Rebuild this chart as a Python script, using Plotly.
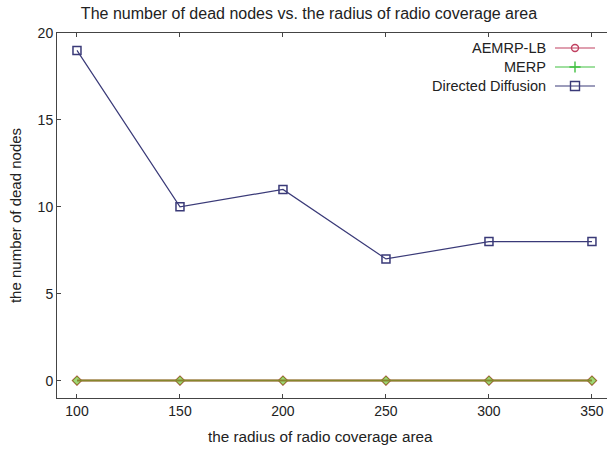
import plotly.graph_objects as go

# Data
radius = [100, 150, 200, 250, 300, 350]
aemrp_lb = [0, 0, 0, 0, 0, 0]
merp = [0, 0, 0, 0, 0, 0]
directed_diffusion = [19, 10, 11, 7, 8, 8]

series_names = ["AEMRP-LB", "MERP", "Directed Diffusion"]

RED = "#c03040"
GREEN = "#60c020"
NAVY = "#3a3a78"
TEXT = "#222222"
FONT = "Liberation Sans, Arial, sans-serif"

W, H = 607, 450
L, R, T, B = 57, 0, 33, 52

fig = go.Figure()

fig.add_trace(go.Scatter(
    x=radius, y=aemrp_lb, mode="lines+markers", name=series_names[0],
    line=dict(color=RED, width=2),
    marker=dict(symbol="diamond-open", size=7, color=RED, line=dict(width=1.2)),
    showlegend=False, cliponaxis=False))
fig.add_trace(go.Scatter(
    x=radius, y=merp, mode="lines+markers", name=series_names[1],
    line=dict(color=GREEN, width=2), opacity=0.6,
    marker=dict(symbol="diamond", size=7, color=GREEN, line=dict(width=1, color=GREEN)),
    showlegend=False, cliponaxis=False))
fig.add_trace(go.Scatter(
    x=radius, y=directed_diffusion, mode="lines+markers", name=series_names[2],
    line=dict(color=NAVY, width=1.2),
    marker=dict(symbol="square-open", size=8, color=NAVY, line=dict(width=1.5)),
    showlegend=False, cliponaxis=False))

# Legend drawn on a pixel-scaled overlay axis: text right-aligned, sample to its right
leg_rows = [48, 67, 86]
leg_styles = [
    ("#c04060", "circle-open", 7),
    ("#40c040", "cross-thin", 8),
    (NAVY, "square-open", 9),
]
for name, yrow, (col, sym, sz) in zip(series_names, leg_rows, leg_styles):
    fig.add_trace(go.Scatter(
        x=[555, 575, 595], y=[yrow, yrow, yrow], xaxis="x2", yaxis="y2",
        mode="lines", line=dict(color=col, width=1.2), showlegend=False, hoverinfo="skip"))
    fig.add_trace(go.Scatter(
        x=[575], y=[yrow], xaxis="x2", yaxis="y2", mode="markers",
        marker=dict(symbol=sym, size=sz, color=col, line=dict(width=1.4, color=col)),
        showlegend=False, hoverinfo="skip"))
    fig.add_annotation(
        x=548, y=yrow, xref="x2", yref="y2", text=name, showarrow=False,
        xanchor="right", yanchor="middle", font=dict(size=14.5, color=TEXT, family=FONT))

# x-axis title
fig.add_annotation(
    x=(320 - L) / (W - L - R), y=-(437 - (H - B)) / (H - T - B), xref="paper", yref="paper",
    text="the radius of radio coverage area", showarrow=False,
    xanchor="center", yanchor="middle", font=dict(size=15.3, color=TEXT, family=FONT))

fig.update_layout(
    width=W, height=H,
    margin=dict(l=L, r=R, t=T, b=B),
    paper_bgcolor="white", plot_bgcolor="white",
    font=dict(family=FONT, size=14, color=TEXT),
    title=dict(text="The number of dead nodes vs. the radius of radio coverage area",
               x=309 / W, xanchor="center", y=1 - 13 / H, yanchor="middle",
               font=dict(size=16, color=TEXT, family=FONT)),
    xaxis=dict(range=[90.3, 357.3], tickvals=radius, ticks="inside", ticklen=4,
               tickcolor="#444", showline=True, linecolor="#444", linewidth=1,
               mirror="ticks", showgrid=False, zeroline=False,
               tickfont=dict(size=14, color=TEXT)),
    yaxis=dict(range=[-1, 20], tickvals=[0, 5, 10, 15, 20], ticks="inside", ticklen=4,
               tickcolor="#444", showline=True, linecolor="#444", linewidth=1,
               showgrid=False, zeroline=False,
               title=dict(text="the number of dead nodes", standoff=12,
                          font=dict(size=15, color=TEXT)),
               tickfont=dict(size=14, color=TEXT)),
    xaxis2=dict(range=[L, W - R], overlaying="x", visible=False, fixedrange=True),
    yaxis2=dict(range=[H - B, T], overlaying="y", visible=False, fixedrange=True),
)

fig.write_html("out.html")
